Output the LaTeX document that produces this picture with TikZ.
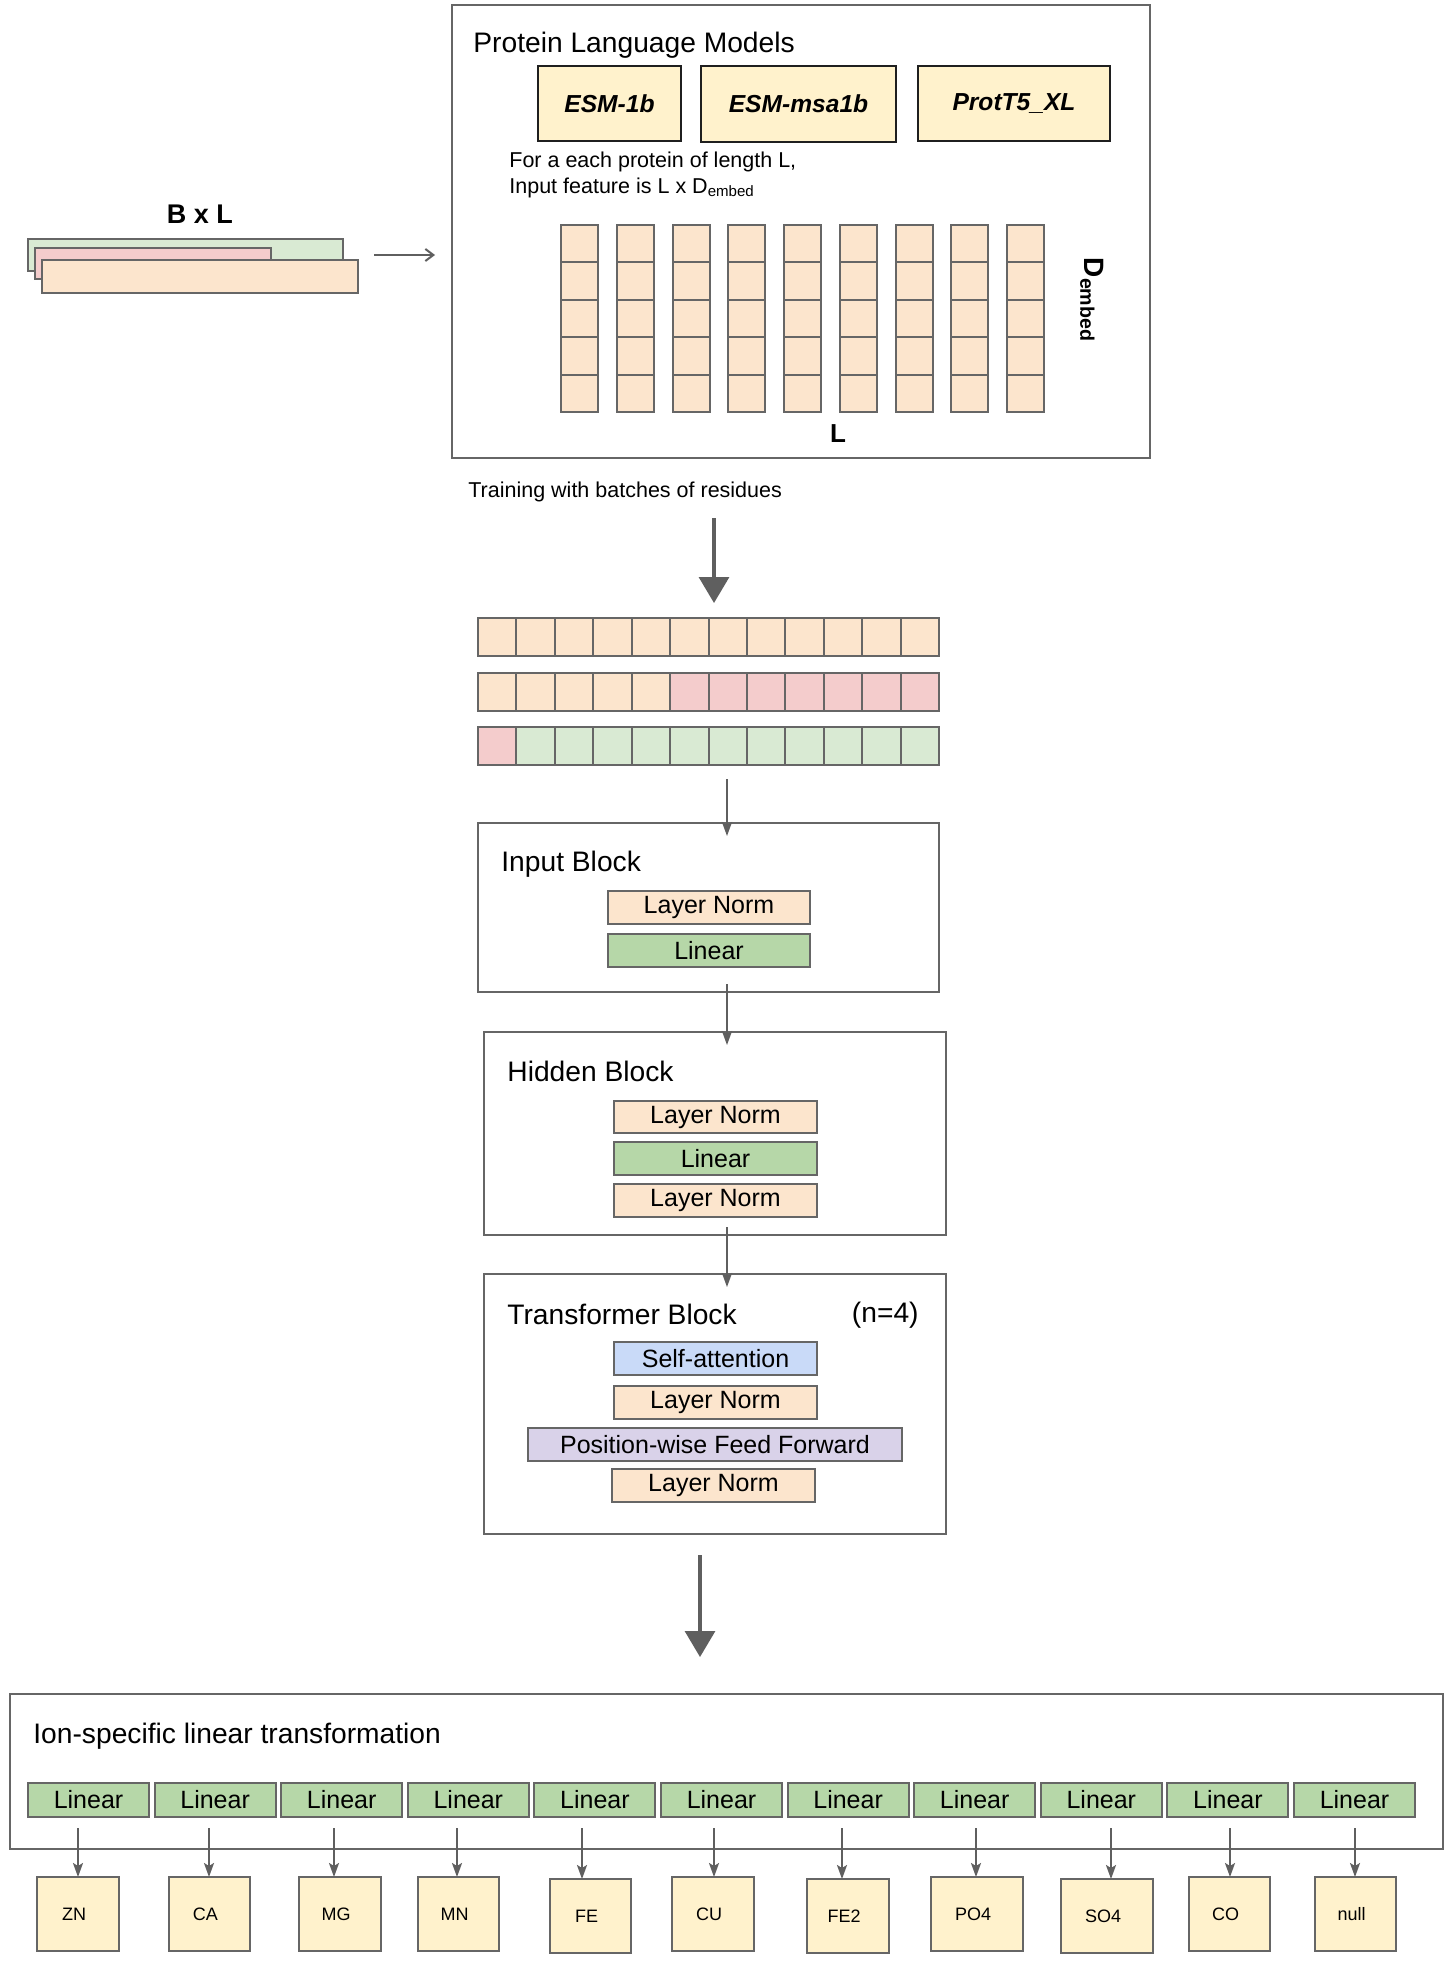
\documentclass[tikz,border=0pt]{standalone}
\usepackage{fontspec}
\setmainfont{Liberation Sans}
\usetikzlibrary{arrows.meta,fit}
\definecolor{cOrange}{HTML}{FCE5CD}
\definecolor{cPink}{HTML}{F4CCCC}
\definecolor{cLGreen}{HTML}{D9EAD3}
\definecolor{cGreen}{HTML}{B6D7A8}
\definecolor{cBlue}{HTML}{C9DAF8}
\definecolor{cPurple}{HTML}{D9D2E9}
\definecolor{cYellow}{HTML}{FFF2CC}
\definecolor{cBorder}{HTML}{666666}
\definecolor{cDark}{HTML}{1F1F1F}
\definecolor{cArrow}{HTML}{5F5F5F}
% rectangle node from corner pixels: style, name, x1, y1, x2, y2, text
\newcommand\rbox[7]{\node[#1, minimum width={((#5)-(#3))*0.5pt}, minimum height={((#6)-(#4))*0.5pt}] (#2) at ({((#3)+(#5))/2},{((#4)+(#6))/2}) {#7};}
\begin{document}
\begin{tikzpicture}[x=0.5pt,y=-0.5pt,
  box/.style={draw=cBorder, line width=1pt, inner sep=0pt, outer sep=0pt},
  blk/.style={box, fill=white},
  cellO/.style={box, fill=cOrange},
  cellP/.style={box, fill=cPink},
  cellG/.style={box, fill=cLGreen},
  lnbox/.style={box, fill=cOrange, font=\fontsize{12.5pt}{15pt}\selectfont},
  linbox/.style={box, fill=cGreen, font=\fontsize{12.5pt}{15pt}\selectfont},
  sabox/.style={box, fill=cBlue, font=\fontsize{12.5pt}{15pt}\selectfont},
  ffbox/.style={box, fill=cPurple, font=\fontsize{12.5pt}{15pt}\selectfont},
  esmbox/.style={draw=cDark, line width=1.2pt, fill=cYellow, inner sep=0pt, outer sep=0pt, font=\fontsize{12.3pt}{15pt}\selectfont\bfseries\itshape},
  ionbox/.style={draw=cBorder, line width=1.1pt, fill=cYellow, inner sep=0pt, outer sep=0pt, font=\fontsize{9pt}{11pt}\selectfont},
  title/.style={anchor=west, inner sep=0pt, font=\fontsize{14.1pt}{17pt}\selectfont},
  small/.style={anchor=base west, inner sep=0pt, font=\fontsize{10.75pt}{13pt}\selectfont},
  arr/.style={draw=cArrow, line width=1pt, -{Stealth[length=7pt,width=5pt,inset=1.5pt]}},
  barbarr/.style={draw=cArrow, line width=1pt, -{Straight Barb[length=4pt,width=6pt]}},
  bigarr/.style={draw=cArrow, line width=1.6pt, -{Triangle[length=13pt,width=15pt]}},
]
\fill[white] (0,0) rectangle (1453,1964);
\useasboundingbox (0,0) rectangle (1453,1964);

% ---------- input stack ----------
\node[font=\fontsize{13.5pt}{16pt}\selectfont\bfseries, inner sep=0pt] (bxl) at (200,214) {B x L};
\rbox{cellG}{stg}{28}{239}{343}{271}{}
\rbox{cellP}{stp}{35}{248}{271}{279}{}
\rbox{cellO}{sto}{42}{260}{358}{293}{}
\coordinate (sa1) at (374,255);
\coordinate (sa2) at (435,255);
\draw[barbarr] (sa1) -- (sa2);

% ---------- protein language models ----------
\rbox{blk}{plm}{452}{5}{1150}{458}{}
\node[title] (plmt) at (473,45) {Protein Language Models};
\rbox{esmbox}{esm1}{538}{66}{681}{141}{ESM-1b}
\rbox{esmbox}{esm2}{701}{66}{896}{142}{ESM-msa1b}
\rbox{esmbox}{esm3}{918}{66}{1110}{141}{ProtT5\_XL}
\node[small] (fe1) at (509,167.5) {For a each protein of length L,};
\node[small] (fe2) at (509,193.5) {Input feature is L x D\textsubscript{embed}};
\foreach \i in {0,...,8}{
  \foreach \j in {0,...,4}{
    \rbox{cellO}{p\i-\j}{561+55.75*\i}{225+37.4*\j}{598+55.75*\i}{262.4+37.4*\j}{}
  }
}
\node[font=\fontsize{13pt}{15pt}\selectfont\bfseries, inner sep=0pt] (lab) at (838,434) {L};
\node[font=\fontsize{14pt}{16pt}\selectfont\bfseries, inner sep=0pt, rotate=-90] (demb) at (1092,300) {D\textsubscript{embed}};

% ---------- batches ----------
\node[small] (train) at (468,497.5) {Training with batches of residues};
\coordinate (ba1) at (714,518);
\coordinate (ba2) at (714,603);
\draw[bigarr] (ba1) -- (ba2);
\foreach \k in {0,...,11}{
  \rbox{cellO}{r1-\k}{478+38.42*\k}{618}{516.42+38.42*\k}{656}{}
}
\foreach \k in {0,...,4}{
  \rbox{cellO}{r2-\k}{478+38.42*\k}{673}{516.42+38.42*\k}{711}{}
}
\foreach \k in {5,...,11}{
  \rbox{cellP}{r2-\k}{478+38.42*\k}{673}{516.42+38.42*\k}{711}{}
}
\rbox{cellP}{r3-0}{478}{727}{516.42}{765}{}
\foreach \k in {1,...,11}{
  \rbox{cellG}{r3-\k}{478+38.42*\k}{727}{516.42+38.42*\k}{765}{}
}

% ---------- input block ----------
\rbox{blk}{inblk}{478}{823}{939}{992}{}
\coordinate (ia1) at (727,779);
\coordinate (ia2) at (727,836);
\draw[arr] (ia1) -- (ia2);
\node[title] (int) at (501,864) {Input Block};
\rbox{lnbox}{in1}{608}{891}{810}{924}{Layer Norm}
\rbox{linbox}{in2}{608}{934}{810}{967}{Linear}

% ---------- hidden block ----------
\rbox{blk}{hid}{484}{1032}{946}{1235}{}
\coordinate (ha1) at (727,984);
\coordinate (ha2) at (727,1045);
\draw[arr] (ha1) -- (ha2);
\node[title] (hidt) at (507,1071) {Hidden Block};
\rbox{lnbox}{hd1}{614}{1101}{817}{1133}{Layer Norm}
\rbox{linbox}{hd2}{614}{1142}{817}{1175}{Linear}
\rbox{lnbox}{hd3}{614}{1184}{817}{1217}{Layer Norm}

% ---------- transformer block ----------
\rbox{blk}{trf}{484}{1274}{946}{1534}{}
\coordinate (ta1) at (727,1227);
\coordinate (ta2) at (727,1287);
\draw[arr] (ta1) -- (ta2);
\node[title] (trft) at (507,1314) {Transformer Block};
\node[title, anchor=east] (trfn) at (919,1315) {(n=4)};
\rbox{sabox}{tr1}{614}{1342}{817}{1375}{Self-attention}
\rbox{lnbox}{tr2}{614}{1386}{817}{1419}{Layer Norm}
\rbox{ffbox}{tr3}{528}{1428}{902}{1461}{Position-wise Feed Forward}
\rbox{lnbox}{tr4}{612}{1469}{815}{1502}{Layer Norm}

\coordinate (bb1) at (700,1555);
\coordinate (bb2) at (700,1657);
\draw[bigarr] (bb1) -- (bb2);

% ---------- ion-specific block ----------
\rbox{blk}{ion}{10}{1694}{1443}{1849}{}
\node[title] (iont) at (33,1736) {Ion-specific linear transformation};
\foreach \k in {0,...,10}{
  \rbox{linbox}{lin\k}{28+126.6*\k}{1783}{149+126.6*\k}{1817}{Linear}
}
\foreach \k/\xa/\xb/\ya/\ax/\lab in {
  0/37/119/1877/78/ZN, 1/169/250/1877/209/CA, 2/299/381/1877/334/MG,
  3/418/499/1877/457/MN, 4/550/631/1879/582/FE, 5/672/754/1877/714/CU,
  6/807/889/1879/842/FE2, 7/931/1023/1877/976/PO4, 8/1061/1153/1879/1111/SO4,
  9/1189/1270/1877/1230/CO, 10/1315/1396/1877/1355/null}{
  \rbox{ionbox}{ion\k}{\xa}{\ya}{\xb}{\ya+74}{\lab\kern4pt}
  \coordinate (ar\k) at (\ax,1828);
  \draw[arr] (ar\k) -- (ar\k |- ion\k.north);
}
\end{tikzpicture}
\end{document}
